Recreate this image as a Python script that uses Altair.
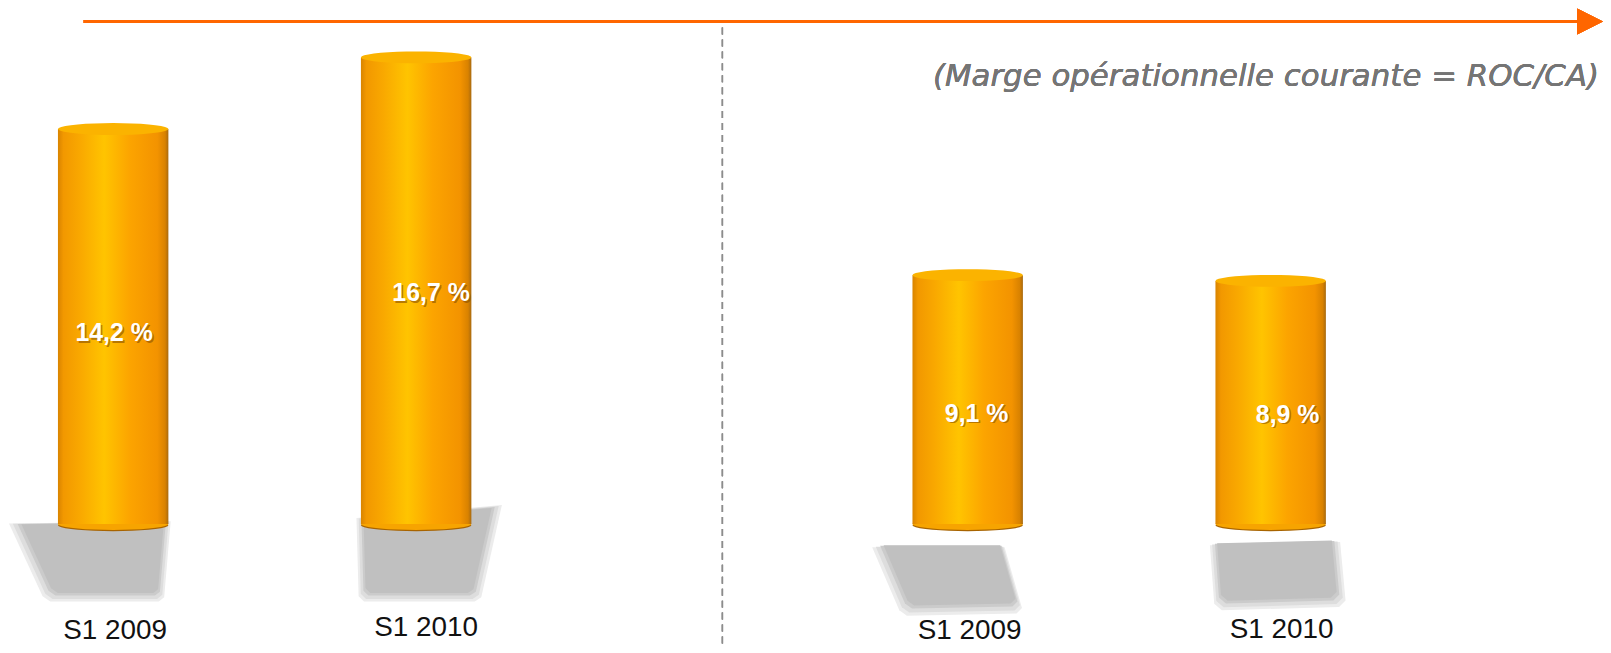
import math
import altair as alt
import pandas as pd

# ---- data ----
panels = ["Gauche", "Gauche", "Droite", "Droite"]
periods = ["S1 2009", "S1 2010", "S1 2009", "S1 2010"]
values = [14.2, 16.7, 9.1, 8.9]
value_labels = ["14,2 %", "16,7 %", "9,1 %", "8,9 %"]
subtitle = "(Marge opérationnelle courante = ROC/CA)"

df = pd.DataFrame({"panel": panels, "period": periods, "value": values, "label": value_labels})
df["key"] = df["panel"] + " " + df["period"]
keys = list(df["key"])

# ---- scales ----
x_enc = alt.X("panel:N", scale=alt.Scale(domain=["Gauche", "Droite"], range=[50.2, 1324.5],
                                         paddingInner=0.5162, paddingOuter=0), axis=None)
xo_enc = alt.XOffset("period:N", scale=alt.Scale(domain=["S1 2009", "S1 2010"],
                                                 paddingInner=0.6355, paddingOuter=0))
y_scale = alt.Scale(domain=[-3.96, 18.16], nice=False, zero=False)
yv = alt.Y("value:Q", scale=y_scale, axis=None)
yh = alt.Y("half:Q", scale=y_scale, axis=None)
yz = alt.Y("zero:Q", scale=y_scale, axis=None)

base = alt.Chart(df).transform_calculate(zero="0", half="datum.value / 2")


def stops(pairs):
    return [alt.GradientStop(offset=o, color=c) for o, c in pairs]


body_grad = alt.LinearGradient(gradient="linear", x1=0, x2=1, y1=0, y2=0, stops=stops([
    (0.0, "#d98400"), (0.05, "#f29800"), (0.2, "#f9a800"), (0.42, "#ffc400"),
    (0.65, "#fca400"), (0.9, "#f39300"), (0.97, "#d98200"), (1.0, "#a86a10")]))


def ellipse_path(cy, ry, n=36):
    pts = []
    for j in range(n):
        t = 2 * math.pi * j / n
        pts.append(f"{math.cos(t):.4f},{cy + ry * math.sin(t):.4f}")
    return "M" + "L".join(pts) + "Z"


RY = 0.108  # half height of the cylinder ends relative to half width
top_path = ellipse_path(RY, RY)
bottom_path = ellipse_path(-RY, RY)
rim_path = ellipse_path(-RY + 0.022, RY)

shadow_paths = [
    "M-0.96,-0.06L0.53,-0.08L0.47,0.62L0.42,0.66L-0.58,0.66L-0.65,0.61Z",
    "M-0.55,-0.11L0.79,-0.23L0.6,0.62L0.54,0.66L-0.48,0.66L-0.53,0.61Z",
    "M-0.88,0.16L0.34,0.16L0.5,0.72L0.45,0.77L-0.56,0.79L-0.63,0.74Z",
    "M-0.56,0.14L0.64,0.11L0.69,0.65L0.63,0.71L-0.45,0.74L-0.52,0.68Z",
]
shadow_tones = [(47600, "#ececec"), (44100, "#dddddd"), (40000, "#cbcbcb"), (36900, "#c0c0c0")]

# per-bar label placement (dx, dy for value label; dx, y for category label)
val_dx = [1, 15, 9, 17]
val_dy = [7, 2.5, 14.5, 12.5]
cat_dx = [2, 10, 2, 11]
cat_y = [625, 622, 625, 624]

layers = []
for i, k in enumerate(keys):
    sub = base.transform_filter(alt.datum.key == k)
    for size, tone in shadow_tones:
        layers.append(sub.mark_point(shape=shadow_paths[i], filled=True, opacity=1, color=tone,
                                     size=size).encode(x=x_enc, xOffset=xo_enc, y=yz))

rim = base.mark_point(shape=rim_path, filled=True, opacity=1, color="#a86400", size=12321).encode(
    x=x_enc, xOffset=xo_enc, y=yz)
bottom_cap = base.mark_point(shape=bottom_path, filled=True, opacity=1, color="#f7a400",
                             size=12321).encode(x=x_enc, xOffset=xo_enc, y=yz)
body = base.mark_bar(fill=body_grad, yOffset=6, y2Offset=-6).encode(
    x=x_enc, xOffset=xo_enc, y=yv, y2=alt.Y2("zero:Q"))
top_cap = base.mark_point(shape=top_path, filled=True, opacity=1, color="#fbb300",
                          size=12321).encode(x=x_enc, xOffset=xo_enc, y=yv)
layers += [rim, bottom_cap, body, top_cap]

for i, k in enumerate(keys):
    sub = base.transform_filter(alt.datum.key == k)
    layers.append(sub.mark_text(font="Liberation Sans", fontSize=25, fontWeight="bold",
                                color="#8a5000", opacity=0.6,
                                dx=val_dx[i] + 1.5, dy=val_dy[i] + 1.5).encode(
        x=x_enc, xOffset=xo_enc, y=yh, text="label:N"))
    layers.append(sub.mark_text(font="Liberation Sans", fontSize=25, fontWeight="bold",
                                color="white", dx=val_dx[i], dy=val_dy[i]).encode(
        x=x_enc, xOffset=xo_enc, y=yh, text="label:N"))
    layers.append(sub.mark_text(font="Liberation Sans", fontSize=28, color="#111111",
                                dx=cat_dx[i], baseline="middle").encode(
        x=x_enc, xOffset=xo_enc, y=alt.value(cat_y[i]), text="period:N"))

# decorations
arrow_line = base.mark_rule(color="#ff6600", strokeWidth=3).encode(
    x=alt.value(76), x2=alt.value(1578), y=alt.value(12))
arrow_head = base.mark_point(shape="M-1,-1L1,0L-1,1Z", filled=True, opacity=1, color="#ff6600",
                             size=676).encode(x=alt.value(1590), y=alt.value(12))
divider = base.mark_rule(color="#8c8c8c", strokeWidth=1.3, strokeDash=[7, 5]).encode(
    x=alt.value(718), y=alt.value(18), y2=alt.value(637))
sub_text = base.mark_text(text=subtitle, font="DejaVu Sans", fontStyle="italic", fontSize=31,
                          fontWeight=200, color="#757575", align="right",
                          baseline="middle").encode(x=alt.value(1599), y=alt.value(68))
layers += [divider, arrow_line, arrow_head, sub_text]

chart = alt.layer(*layers).properties(
    width=1595, height=637,
    padding={"left": 0, "top": 0, "right": 8, "bottom": 0},
    autosize=alt.AutoSizeParams(type="none"),
).configure_view(stroke=None)

chart.save("out.html", embed_options={"renderer": "svg", "actions": False})
